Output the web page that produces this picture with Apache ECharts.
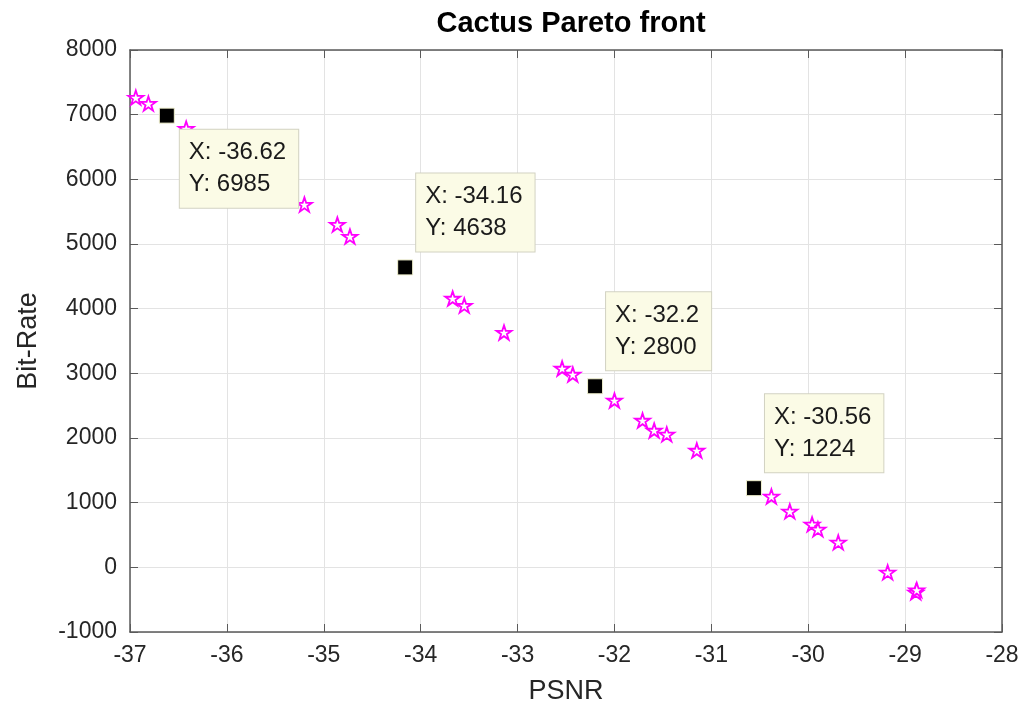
<!DOCTYPE html>
<html>
<head>
<meta charset="utf-8">
<script src="https://cdn.jsdelivr.net/npm/echarts@6/dist/echarts.min.js"></script>
<style>
html,body{margin:0;padding:0;background:#fff;}
#chart{width:1026px;height:711px;}
</style>
</head>
<body>
<div id="chart"></div>
<script>
// Pareto front points (PSNR, Bit-Rate)
const frontPsnr = [-36.94, -36.81, -36.42, -35.20, -34.86, -34.73, -33.67, -33.55, -33.14,
  -32.54, -32.43, -32.00, -31.71, -31.59, -31.46, -31.15, -30.38, -30.19, -29.96, -29.90,
  -29.69, -29.18, -28.89, -28.88];
const frontRate = [7264, 7172, 6785, 5611, 5301, 5116, 4158, 4049, 3632,
  3076, 2983, 2581, 2272, 2117, 2056, 1808, 1097, 866, 665, 587,
  386, -77, -386, -350];

// Highlighted points with data tips
const tipPsnr = [-36.62, -34.16, -32.2, -30.56];
const tipRate = [6985, 4638, 2800, 1224];
// where each data tip sits relative to its point
const tipPlace = ['below', 'above', 'above', 'above'];

const xTicks = { min: -37, max: -28, interval: 1 };
const yTicks = { min: -1000, max: 8000, interval: 1000 };

const starPath = 'path://M0 -10 L2.245 -3.09 L9.51 -3.09 L3.633 1.18 L5.88 8.09 L0 3.82 L-5.88 8.09 L-3.633 1.18 L-9.51 -3.09 L-2.245 -3.09 Z';

const font = 'Liberation Sans, Arial, Helvetica, sans-serif';
const axisColor = '#5a5a5a';
const textColor = '#262626';

const frontData = frontPsnr.map((x, i) => [x, frontRate[i]]);
const tipData = tipPsnr.map((x, i) => ({
  value: [x, tipRate[i]],
  label: {
    position: tipPlace[i] === 'below' ? [21, 22] : [19, -86]
  }
}));

const chart = echarts.init(document.getElementById('chart'), null, { renderer: 'canvas' });

const baseX = { type: 'value', min: xTicks.min, max: xTicks.max, interval: xTicks.interval };
const baseY = { type: 'value', min: yTicks.min, max: yTicks.max, interval: yTicks.interval };
const frameLine = { show: true, onZero: false, lineStyle: { color: axisColor, width: 1.5 } };
const frameTick = { show: true, inside: true, length: 8, lineStyle: { color: axisColor } };
const gridLine = { show: true, lineStyle: { color: '#e3e3e3', width: 1 } };

chart.setOption({
  animation: false,
  backgroundColor: '#ffffff',
  title: {
    text: 'Cactus Pareto front',
    left: 566, top: 4, textAlign: 'center',
    textStyle: { fontFamily: font, fontSize: 29, fontWeight: 'bold', color: '#000' }
  },
  grid: { left: 130, right: 24, top: 50, bottom: 79, containLabel: false },
  xAxis: [
    Object.assign({}, baseX, {
      position: 'bottom',
      name: 'PSNR', nameLocation: 'middle', nameGap: 46,
      nameTextStyle: { fontFamily: font, fontSize: 27, color: textColor },
      axisLine: frameLine,
      axisTick: frameTick,
      axisLabel: { fontFamily: font, fontSize: 23, color: textColor, margin: 12,
        formatter: v => String(v) },
      splitLine: gridLine
    }),
    Object.assign({}, baseX, {
      position: 'top',
      axisLine: frameLine,
      axisTick: frameTick,
      axisLabel: { show: false },
      splitLine: { show: false }
    })
  ],
  yAxis: [
    Object.assign({}, baseY, {
      position: 'left',
      name: 'Bit-Rate', nameLocation: 'middle', nameGap: 88,
      nameTextStyle: { fontFamily: font, fontSize: 27, color: textColor },
      axisLine: frameLine,
      axisTick: frameTick,
      axisLabel: { fontFamily: font, fontSize: 23, color: textColor, margin: 13,
        formatter: v => String(v) },
      splitLine: gridLine
    }),
    Object.assign({}, baseY, {
      position: 'right',
      axisLine: frameLine,
      axisTick: frameTick,
      axisLabel: { show: false },
      splitLine: { show: false }
    })
  ],
  series: [
    {
      type: 'scatter',
      name: 'front',
      xAxisIndex: 0, yAxisIndex: 0,
      data: frontData,
      symbol: starPath,
      symbolKeepAspect: true,
      symbolSize: 15,
      itemStyle: { color: '#ffffff', borderColor: '#ff00ff', borderWidth: 1.8, opacity: 1 },
      z: 2
    },
    {
      type: 'scatter',
      name: 'tips',
      xAxisIndex: 0, yAxisIndex: 0,
      data: tipData,
      symbol: 'rect',
      symbolSize: 15,
      itemStyle: { color: '#000000', borderColor: '#f2f2d0', borderWidth: 1, opacity: 1 },
      label: {
        show: true,
        align: 'left',
        verticalAlign: 'top',
        formatter: p => 'X: ' + p.value[0] + '\nY: ' + p.value[1],
        fontFamily: font,
        fontSize: 24,
        lineHeight: 32,
        color: '#1a1a1a',
        backgroundColor: '#fbfbe6',
        borderColor: '#d2d2c2',
        borderWidth: 1,
        padding: [7, 12, 7, 9]
      },
      z: 3
    }
  ]
});
</script>
</body>
</html>
